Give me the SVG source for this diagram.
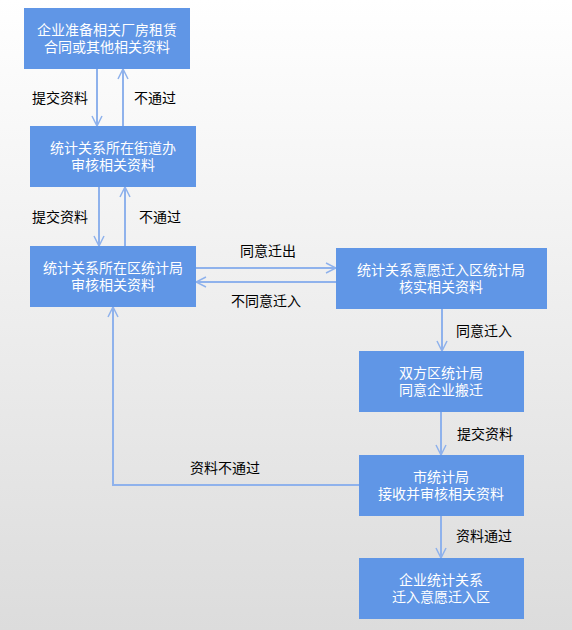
<svg xmlns="http://www.w3.org/2000/svg" width="572" height="630" viewBox="0 0 572 630">
<defs>
<linearGradient id="bg" x1="0" y1="0" x2="0" y2="1">
<stop offset="0" stop-color="#ffffff"/>
<stop offset="1" stop-color="#dcdcdc"/>
</linearGradient>
<marker id="ah" viewBox="0 0 12 12" refX="11" refY="6" markerWidth="12" markerHeight="12" markerUnits="userSpaceOnUse" orient="auto">
<path d="M1,1 L11,6 L1,11" fill="none" stroke="#8fb2ec" stroke-width="1.5"/>
</marker>
<style>
.box{fill:#6096e6;}
.bt{font-family:"Noto Sans CJK SC","Microsoft YaHei",sans-serif;font-size:14px;fill:#ffffff;text-anchor:middle;}
.lb{font-family:"Noto Sans CJK SC","Microsoft YaHei",sans-serif;font-size:14px;fill:#000000;}
.cn{fill:none;stroke:#8fb2ec;stroke-width:2;marker-end:url(#ah);}
</style>
</defs>
<rect x="0" y="0" width="572" height="630" fill="url(#bg)"/>
<g id="connectors">
<line class="cn" x1="97" y1="69" x2="97" y2="126"/>
<line class="cn" x1="123" y1="126" x2="123" y2="69"/>
<line class="cn" x1="99" y1="187" x2="99" y2="246"/>
<line class="cn" x1="125" y1="246" x2="125" y2="187"/>
<line class="cn" x1="196" y1="268" x2="336" y2="268"/>
<line class="cn" x1="336" y1="282" x2="196" y2="282"/>
<line class="cn" x1="442" y1="309" x2="442" y2="351"/>
<line class="cn" x1="441" y1="412" x2="441" y2="455"/>
<line class="cn" x1="441" y1="516" x2="441" y2="558"/>
<polyline class="cn" points="359,485 113,485 113,307"/>
<text class="lb" x="32" y="103">提交资料</text>
<text class="lb" x="134" y="103">不通过</text>
<text class="lb" x="32" y="222">提交资料</text>
<text class="lb" x="139" y="222">不通过</text>
<text class="lb" x="240" y="256">同意迁出</text>
<text class="lb" x="231" y="306">不同意迁入</text>
<text class="lb" x="456" y="336">同意迁入</text>
<text class="lb" x="457" y="439">提交资料</text>
<text class="lb" x="190" y="473">资料不通过</text>
<text class="lb" x="456" y="541">资料通过</text>
</g>
<g id="n1"><rect class="box" x="24" y="8" width="166" height="61"/><text class="bt" x="107" y="35">企业准备相关厂房租赁</text><text class="bt" x="107" y="52">合同或其他相关资料</text></g>
<g id="n2"><rect class="box" x="30" y="126" width="166" height="61"/><text class="bt" x="113" y="153">统计关系所在街道办</text><text class="bt" x="113" y="170">审核相关资料</text></g>
<g id="n3"><rect class="box" x="30" y="246" width="166" height="61"/><text class="bt" x="113" y="273">统计关系所在区统计局</text><text class="bt" x="113" y="290">审核相关资料</text></g>
<g id="n4"><rect class="box" x="336" y="248" width="211" height="61"/><text class="bt" x="441" y="275">统计关系意愿迁入区统计局</text><text class="bt" x="441" y="292">核实相关资料</text></g>
<g id="n5"><rect class="box" x="359" y="351" width="165" height="61"/><text class="bt" x="441" y="378">双方区统计局</text><text class="bt" x="441" y="395">同意企业搬迁</text></g>
<g id="n6"><rect class="box" x="359" y="455" width="165" height="61"/><text class="bt" x="441" y="482">市统计局</text><text class="bt" x="441" y="499">接收并审核相关资料</text></g>
<g id="n7"><rect class="box" x="359" y="558" width="165" height="61"/><text class="bt" x="441" y="585">企业统计关系</text><text class="bt" x="441" y="602">迁入意愿迁入区</text></g>
</svg>
